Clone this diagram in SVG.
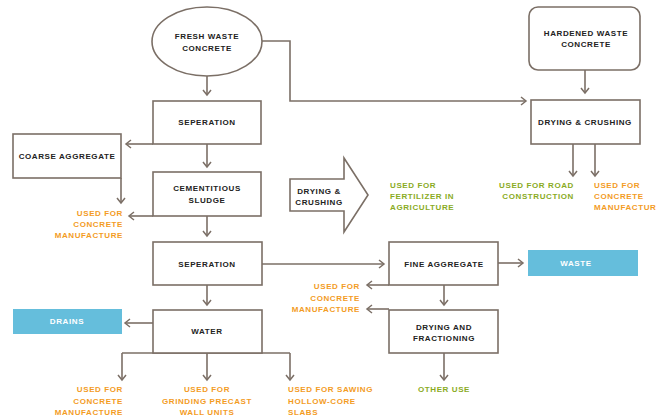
<svg xmlns="http://www.w3.org/2000/svg" width="659" height="417" viewBox="0 0 659 417">
<defs>
<marker id="ah" markerUnits="userSpaceOnUse" markerWidth="10" markerHeight="10" refX="5" refY="4" orient="auto" viewBox="-1 -1 8 10">
<path d="M0,0 L5,4 L0,8" fill="none" stroke="#7b6f66" stroke-width="1.5"/>
</marker>
<style>
.box{fill:#fff;stroke:#7b6f66;stroke-width:1.6}
.blue{fill:#65bedc}
.c{fill:none;stroke:#7b6f66;stroke-width:1.6}
.a{marker-end:url(#ah)}
text{font-family:"Liberation Sans",Arial,sans-serif;font-weight:bold;font-size:8px;letter-spacing:0.6px}
.k{fill:#222;text-anchor:middle}
.w{fill:#fff;text-anchor:middle}
.o{fill:#f39c1f}
.g{fill:#8aab1e}
.m{text-anchor:middle}
.e{text-anchor:end}
</style>
</defs>
<g id="connectors">
<path class="c a" d="M207,76 V95"/>
<path class="c a" d="M262,41 H290 V101 H526"/>
<path class="c a" d="M153,144 H126"/>
<path class="c a" d="M207,144 V167"/>
<path class="c a" d="M121,178 V203"/>
<path class="c a" d="M153,216 H129"/>
<path class="c a" d="M207,216 V236"/>
<path class="c a" d="M262,264 H384"/>
<path class="c a" d="M207,285 V305"/>
<path class="c a" d="M153,323 H125"/>
<path class="c" d="M122,353 H290"/>
<path class="c a" d="M122,353 V380"/>
<path class="c a" d="M207,353 V380"/>
<path class="c a" d="M290,353 V380"/>
<path class="c a" d="M585,70 V93"/>
<path class="c a" d="M573,144 V176"/>
<path class="c a" d="M595,144 V176"/>
<path class="c a" d="M498,263 H523"/>
<path class="c a" d="M389,285 H367"/>
<path class="c a" d="M444,285 V305"/>
<path class="c a" d="M389,309 H367"/>
<path class="c a" d="M444,353 V380"/>
</g>
<g id="fresh">
<ellipse class="box" cx="207" cy="41.5" rx="55" ry="34.5"/>
<text class="k" x="207" y="39">FRESH WASTE</text>
<text class="k" x="207" y="51">CONCRETE</text>
</g>
<g id="sep1">
<rect class="box" x="153" y="101" width="108" height="43"/>
<text class="k" x="207" y="125">SEPERATION</text>
</g>
<g id="coarse">
<rect class="box" x="13" y="134" width="108" height="44"/>
<text class="k" x="67" y="159">COARSE AGGREGATE</text>
</g>
<g id="sludge">
<rect class="box" x="153" y="172" width="108" height="44"/>
<text class="k" x="207" y="191">CEMENTITIOUS</text>
<text class="k" x="207" y="203">SLUDGE</text>
</g>
<g id="drycrush-arrow">
<path class="box" d="M290,179 H344 V158 L368,195 L344,232 V211 H290 Z"/>
<text class="k" x="319" y="194">DRYING &amp;</text>
<text class="k" x="319" y="205">CRUSHING</text>
</g>
<g id="fertilizer">
<text class="g" x="390" y="188">USED FOR</text>
<text class="g" x="390" y="199">FERTILIZER IN</text>
<text class="g" x="390" y="210">AGRICULTURE</text>
</g>
<g id="used1">
<text class="o e" x="123" y="216">USED FOR</text>
<text class="o e" x="123" y="227">CONCRETE</text>
<text class="o e" x="123" y="238">MANUFACTURE</text>
</g>
<g id="sep2">
<rect class="box" x="153" y="242" width="109" height="43"/>
<text class="k" x="207" y="267">SEPERATION</text>
</g>
<g id="water">
<rect class="box" x="153" y="310" width="109" height="43"/>
<text class="k" x="207" y="334">WATER</text>
</g>
<g id="drains">
<rect class="blue" x="13" y="309" width="109" height="25"/>
<text class="w" x="67" y="324">DRAINS</text>
</g>
<g id="used-bottom1">
<text class="o e" x="123" y="392">USED FOR</text>
<text class="o e" x="123" y="404">CONCRETE</text>
<text class="o e" x="123" y="415">MANUFACTURE</text>
</g>
<g id="used-bottom2">
<text class="o m" x="207" y="392">USED FOR</text>
<text class="o m" x="207" y="404">GRINDING PRECAST</text>
<text class="o m" x="207" y="415">WALL UNITS</text>
</g>
<g id="used-bottom3">
<text class="o" x="288" y="392">USED FOR SAWING</text>
<text class="o" x="288" y="404">HOLLOW-CORE</text>
<text class="o" x="288" y="415">SLABS</text>
</g>
<g id="hardened">
<rect class="box" x="529" y="7" width="111" height="63" rx="9"/>
<text class="k" x="586" y="36">HARDENED WASTE</text>
<text class="k" x="586" y="47">CONCRETE</text>
</g>
<g id="drycrush">
<rect class="box" x="531" y="100" width="109" height="44"/>
<text class="k" x="585" y="125">DRYING &amp; CRUSHING</text>
</g>
<g id="road">
<text class="g e" x="574" y="188">USED FOR ROAD</text>
<text class="g e" x="574" y="199">CONSTRUCTION</text>
</g>
<g id="used-right">
<text class="o" x="594" y="188">USED FOR</text>
<text class="o" x="594" y="199">CONCRETE</text>
<text class="o" x="594" y="210">MANUFACTUR</text>
</g>
<g id="fine">
<rect class="box" x="389" y="242" width="109" height="43"/>
<text class="k" x="444" y="267">FINE AGGREGATE</text>
</g>
<g id="waste">
<rect class="blue" x="528" y="250" width="110" height="26"/>
<text class="w" x="576" y="266">WASTE</text>
</g>
<g id="used-mid">
<text class="o e" x="360" y="289">USED FOR</text>
<text class="o e" x="360" y="301">CONCRETE</text>
<text class="o e" x="360" y="312">MANUFACTURE</text>
</g>
<g id="dryfrac">
<rect class="box" x="389" y="310" width="109" height="43"/>
<text class="k" x="444" y="330">DRYING AND</text>
<text class="k" x="444" y="341">FRACTIONING</text>
</g>
<g id="other">
<text class="g m" x="444" y="392">OTHER USE</text>
</g>
</svg>
